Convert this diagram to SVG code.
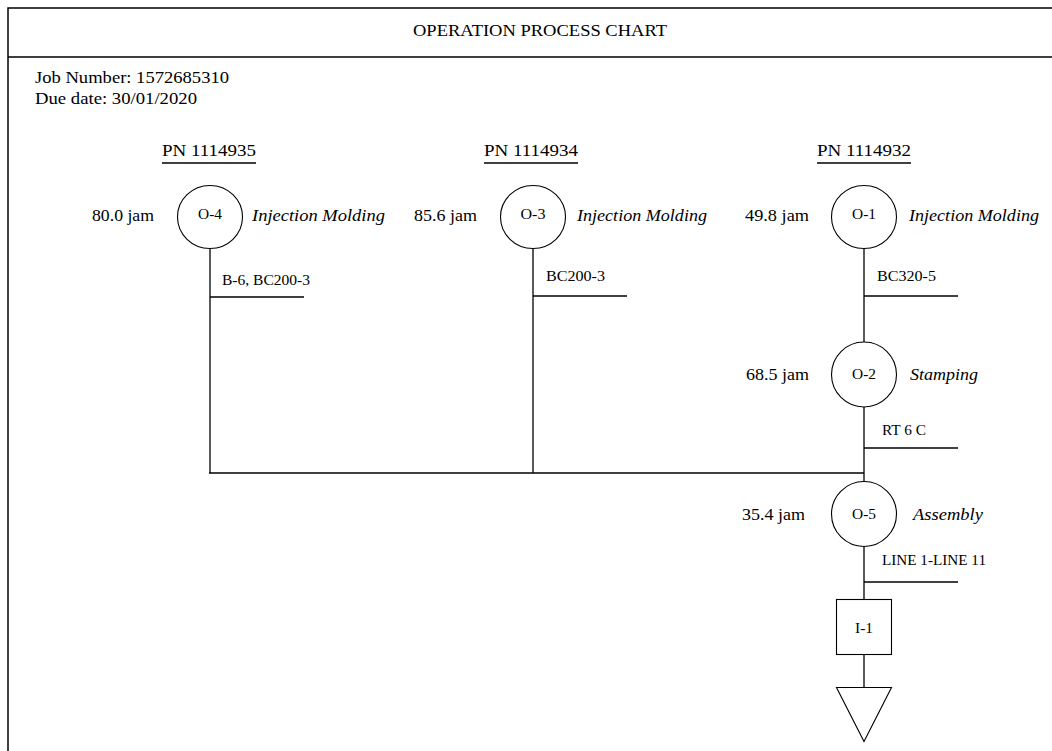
<svg xmlns="http://www.w3.org/2000/svg" width="1052" height="751" viewBox="0 0 1052 751">
  <style>
    .t { font-family: "Liberation Serif", "Times New Roman", serif; font-size: 17px; fill: #000; }
    .s { font-family: "Liberation Serif", "Times New Roman", serif; font-size: 14px; fill: #000; }
    .i { font-style: italic; }
    .m { text-anchor: middle; }
    .ln { stroke: #000; stroke-width: 1.3; fill: none; }
    .sym { stroke: #000; stroke-width: 1.1; fill: #fff; }
    .frame { stroke: #000; stroke-width: 1.5; fill: none; }
  </style>

  <rect x="0" y="0" width="1052" height="751" fill="#fff"/>

  <!-- chart frame and header -->
  <g id="frame">
    <path class="frame" d="M8,751 V8 H1052 M8,57 H1052"/>
    <text class="t m" x="540" y="36" textLength="254" lengthAdjust="spacingAndGlyphs">OPERATION PROCESS CHART</text>
    <text class="t" x="35" y="83" textLength="194" lengthAdjust="spacingAndGlyphs">Job Number: 1572685310</text>
    <text class="t" x="35" y="104" textLength="162" lengthAdjust="spacingAndGlyphs">Due date: 30/01/2020</text>
  </g>

  <!-- part numbers -->
  <g id="parts">
    <text class="t m" x="209" y="156" textLength="94" lengthAdjust="spacingAndGlyphs">PN 1114935</text>
    <line class="ln" x1="162" y1="163" x2="256" y2="163"/>
    <text class="t m" x="531" y="156" textLength="94" lengthAdjust="spacingAndGlyphs">PN 1114934</text>
    <line class="ln" x1="484" y1="163" x2="578" y2="163"/>
    <text class="t m" x="864" y="156" textLength="94" lengthAdjust="spacingAndGlyphs">PN 1114932</text>
    <line class="ln" x1="817" y1="163" x2="911" y2="163"/>
  </g>

  <!-- flow lines and material labels -->
  <g id="connectors">
    <line class="ln" x1="210" y1="249" x2="210" y2="473"/>
    <line class="ln" x1="210" y1="297" x2="304" y2="297"/>
    <line class="ln" x1="533" y1="249" x2="533" y2="473"/>
    <line class="ln" x1="533" y1="296" x2="627" y2="296"/>
    <line class="ln" x1="864" y1="249" x2="864" y2="342"/>
    <line class="ln" x1="864" y1="296" x2="958" y2="296"/>
    <line class="ln" x1="864" y1="407" x2="864" y2="482"/>
    <line class="ln" x1="864" y1="448" x2="958" y2="448"/>
    <line class="ln" x1="209" y1="473" x2="864" y2="473"/>
    <line class="ln" x1="864" y1="546" x2="864" y2="599"/>
    <line class="ln" x1="864" y1="582" x2="958" y2="582"/>
    <line class="ln" x1="864" y1="654" x2="864" y2="687"/>
    <text class="s" x="222" y="285" textLength="88" lengthAdjust="spacingAndGlyphs">B-6, BC200-3</text>
    <text class="s" x="546" y="281" textLength="59" lengthAdjust="spacingAndGlyphs">BC200-3</text>
    <text class="s" x="877" y="281" textLength="59" lengthAdjust="spacingAndGlyphs">BC320-5</text>
    <text class="s" x="882" y="435" textLength="44" lengthAdjust="spacingAndGlyphs">RT 6 C</text>
    <text class="s" x="882" y="565" textLength="104" lengthAdjust="spacingAndGlyphs">LINE 1-LINE 11</text>
  </g>

  <g id="op-o4">
    <ellipse class="sym" cx="210" cy="217" rx="32.5" ry="31.5"/>
    <text class="s m" x="210" y="219" textLength="24" lengthAdjust="spacingAndGlyphs">O-4</text>
    <text class="t" x="92" y="221" textLength="62" lengthAdjust="spacingAndGlyphs">80.0 jam</text>
    <text class="t i" x="252" y="221" textLength="133" lengthAdjust="spacingAndGlyphs">Injection Molding</text>
  </g>

  <g id="op-o3">
    <ellipse class="sym" cx="533" cy="217" rx="32.5" ry="31.5"/>
    <text class="s m" x="533" y="219" textLength="25" lengthAdjust="spacingAndGlyphs">O-3</text>
    <text class="t" x="414" y="221" textLength="63" lengthAdjust="spacingAndGlyphs">85.6 jam</text>
    <text class="t i" x="577" y="221" textLength="130" lengthAdjust="spacingAndGlyphs">Injection Molding</text>
  </g>

  <g id="op-o1">
    <ellipse class="sym" cx="864" cy="217" rx="32.5" ry="31.5"/>
    <text class="s m" x="864" y="219" textLength="24" lengthAdjust="spacingAndGlyphs">O-1</text>
    <text class="t" x="745" y="221" textLength="64" lengthAdjust="spacingAndGlyphs">49.8 jam</text>
    <text class="t i" x="909" y="221" textLength="130" lengthAdjust="spacingAndGlyphs">Injection Molding</text>
  </g>

  <g id="op-o2">
    <circle class="sym" cx="864" cy="374.5" r="32.5"/>
    <text class="s m" x="864" y="379" textLength="24" lengthAdjust="spacingAndGlyphs">O-2</text>
    <text class="t" x="746" y="380" textLength="63" lengthAdjust="spacingAndGlyphs">68.5 jam</text>
    <text class="t i" x="910" y="380" textLength="68" lengthAdjust="spacingAndGlyphs">Stamping</text>
  </g>

  <g id="op-o5">
    <circle class="sym" cx="864" cy="514" r="32.5"/>
    <text class="s m" x="864" y="519" textLength="24" lengthAdjust="spacingAndGlyphs">O-5</text>
    <text class="t" x="742" y="520" textLength="63" lengthAdjust="spacingAndGlyphs">35.4 jam</text>
    <text class="t i" x="913" y="520" textLength="70" lengthAdjust="spacingAndGlyphs">Assembly</text>
  </g>

  <g id="insp-i1">
    <rect class="sym" x="836.5" y="599.5" width="55" height="55"/>
    <text class="s m" x="864" y="633" textLength="18" lengthAdjust="spacingAndGlyphs">I-1</text>
  </g>

  <g id="storage">
    <polygon class="sym" points="836.5,687.5 891.5,687.5 864,741.5"/>
  </g>
</svg>
